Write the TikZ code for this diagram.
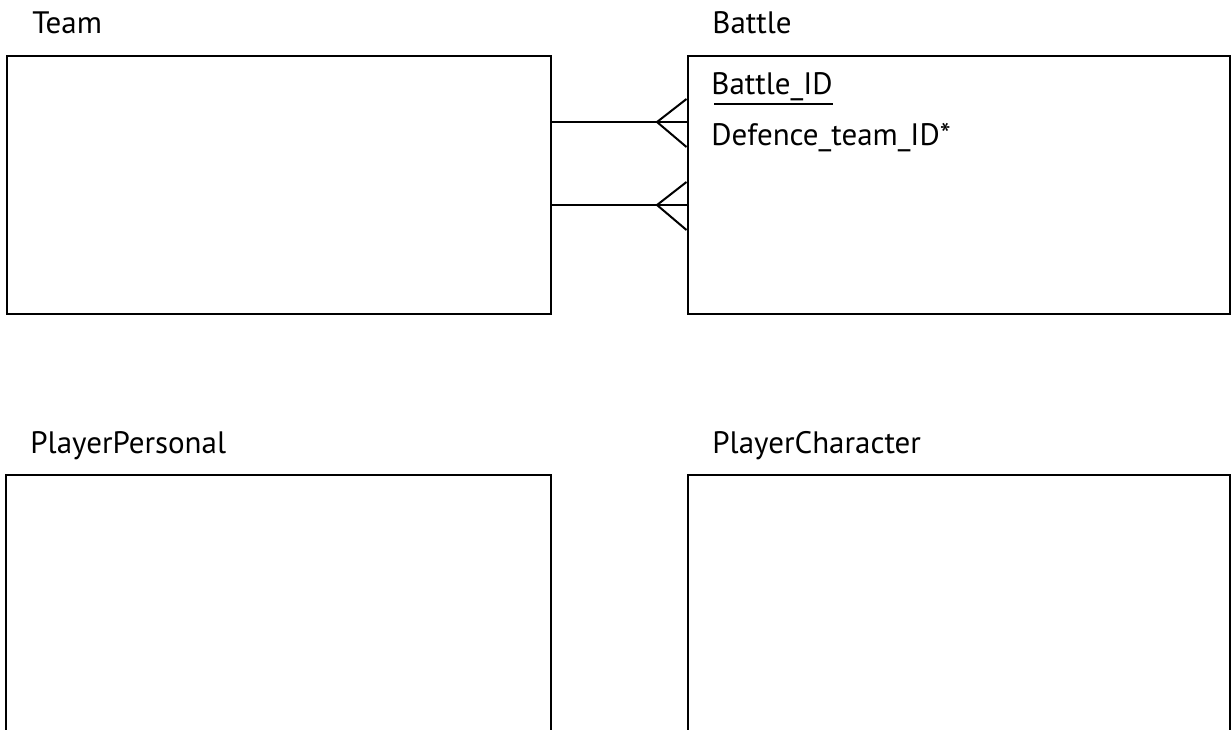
\documentclass[tikz,border=0pt]{standalone}
\usepackage{fontspec}
\setmainfont{PT Sans}
\tikzset{
    entity/.style={rectangle, draw, line width=1pt, inner sep=0mm, minimum height=129pt},
    title/.style={anchor=base west, inner sep=0mm, font=\fontsize{15.5}{18}\selectfont},
    attr/.style={anchor=base west, inner sep=0mm, font=\fontsize{15.5}{18}\selectfont},
    rel/.style={line width=1pt}
}

\begin{document}
\begin{tikzpicture}[x=0.5pt, y=-0.5pt]
    \useasboundingbox (0,0) rectangle (1232,729);
    \clip (0,0) rectangle (1232,729);

    \node (team) at (279,184.5) [entity, minimum width=272pt] {};
    \node (battle) at (958.5,184.5) [entity, minimum width=271pt] {};
    \node (personal) at (278.5,666) [entity, minimum width=272.5pt, minimum height=191pt] {};
    \node (character) at (958.5,666) [entity, minimum width=271pt, minimum height=191pt] {};

    \node (teamT) at (32,33) [title] {Team};
    \node (battleT) at (712,33) [title] {Battle};
    \node (personalT) at (30,453) [title] {PlayerPersonal};
    \node (characterT) at (712,453) [title] {PlayerCharacter};

    \node (bid) at (711,94) [attr] {Battle\_ID};
    \node (dtid) at (711,145) [attr] {Defence\_team\_ID*};
    \draw[rel] ([xshift=1.5pt, yshift=-5pt]bid.base west) -- ([yshift=-5pt]bid.base east);

    % crow's feet
    \coordinate (r1) at (657,122);
    \coordinate (r2) at (657,205);
    \draw[rel] (team.east |- r1) -- (battle.west |- r1);
    \draw[rel] ([yshift=11.5pt]battle.west |- r1) -- (r1) -- ([yshift=-12.5pt]battle.west |- r1);
    \draw[rel] (team.east |- r2) -- (battle.west |- r2);
    \draw[rel] ([yshift=11.5pt]battle.west |- r2) -- (r2) -- ([yshift=-12.5pt]battle.west |- r2);
\end{tikzpicture}
\end{document}
